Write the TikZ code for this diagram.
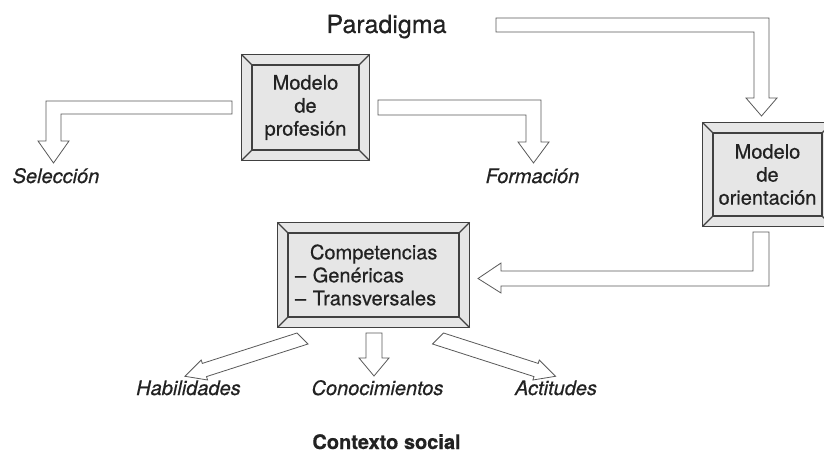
\documentclass[tikz,border=0pt]{standalone}
\usepackage{fontspec}
\setmainfont{TeX Gyre Heros}[FakeBold=0.5]
\usetikzlibrary{backgrounds}
\definecolor{boxgray}{HTML}{E6E6E6}
\definecolor{ink}{HTML}{222222}
\tikzset{
  box/.style={draw=black!75, fill=boxgray, line width=0.9pt, text=ink, align=center,
    font=\fontsize{15}{17.25}\selectfont, inner sep=0pt},
  bevel/.style={draw=black!75, fill=boxgray, line width=0.9pt},
  blockarrow/.style={draw=black!65, fill=white, line width=0.6pt, line join=miter},
  tag/.style={text=ink, anchor=base, font=\fontsize{15}{18}\selectfont\itshape},
}
% bevelled frame round a box node
\newcommand\bevelframe[1]{%
  \begin{scope}[on background layer]
    \filldraw[bevel] ([shift={(-10,-10)}]#1.north west) rectangle ([shift={(10,10)}]#1.south east);
  \end{scope}
  \foreach \c/\dx/\dy in {north west/-10/-10,north east/10/-10,south west/-10/10,south east/10/10}
    \draw[bevel] (#1.\c) -- ++(\dx,\dy);
}
\begin{document}
\begin{tikzpicture}[x=0.75pt,y=-0.75pt]
\useasboundingbox (0,0) rectangle (824,453);
%
\node[box, minimum width=80.25pt, minimum height=63.75pt] (prof) at (305.5,107.5) {Modelo\\de\\profesión};
\node[box, minimum width=81.75pt, minimum height=62.25pt] (orient) at (767.5,174.5) {Modelo\\de\\orientación};
\node[box, align=left, inner xsep=5.25pt, text width=117.75pt, minimum height=63pt] (comp) at (373.5,275)
  {\hspace*{11.25pt}Competencias\\– Genéricas\\– Transversales};
\bevelframe{prof}
\bevelframe{orient}
\bevelframe{comp}
%
\node[anchor=base, text=ink, font=\fontsize{18.75}{22}\selectfont] (par) at (386.5,33) {Paradigma};
\node[tag] (sel) at (56,183) {Selección};
\node[tag] (form) at (532.5,183) {Formación};
\node[tag] (hab) at (188.5,395) {Habilidades};
\node[tag] (con) at (377.5,395) {Conocimientos};
\node[tag] (act) at (556,395) {Actitudes};
\node[anchor=base, text=ink, font=\fontsize{15}{18}\selectfont\bfseries] (ctx) at (386.5,449) {Contexto social};
%
\draw[blockarrow] (232,101)--(46,101)--(46,141)--(38,141)--(53.5,163)--(69,141)--(61,141)--(61,114)--(232,114)--cycle;
\draw[blockarrow] (378,100)--(541,100)--(541,142)--(549,142)--(533.5,163)--(518,142)--(526,142)--(526,115)--(378,115)--cycle;
\draw[blockarrow] (496,18)--(769,18)--(769,98)--(777,98)--(761.5,116)--(746,98)--(754,98)--(754,32)--(496,32)--cycle;
\draw[blockarrow] (753,232)--(769,232)--(769,286)--(501,286)--(501,293)--(478,278.5)--(501,263)--(501,271)--(753,271)--cycle;
\draw[blockarrow] (366,333)--(382,333)--(382,358)--(389,358)--(374,376)--(359,358)--(366,358)--cycle;
\draw[blockarrow] (297,333)--(202.3,363.4)--(201.2,360)--(185,376.3)--(207.6,380)--(206.5,376.6)--(308,344)--cycle;
\draw[blockarrow] (443.5,333)--(538.2,363.4)--(539.3,360)--(555.5,376.3)--(532.9,380)--(534,376.6)--(432.5,344)--cycle;
\end{tikzpicture}
\end{document}
